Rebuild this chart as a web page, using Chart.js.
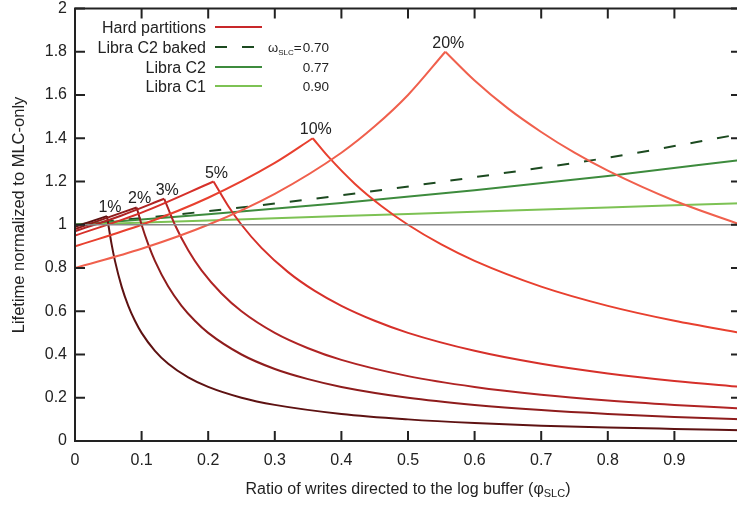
<!DOCTYPE html>
<html><head><meta charset="utf-8">
<script src="https://cdn.jsdelivr.net/npm/chart.js@4/dist/chart.umd.min.js"></script>
<style>
html,body{margin:0;padding:0;background:#fff;overflow:hidden;width:737px;height:506px;}
#wrap{position:absolute;left:0;top:0;width:745px;height:506px;}
</style></head><body>
<div id="wrap"><canvas id="c" width="745" height="506"></canvas></div>
<script>
// ---- tick labels ----
const xTicks = [0, 0.1, 0.2, 0.3, 0.4, 0.5, 0.6, 0.7, 0.8, 0.9, 1];
const xTickLabels = ['0', '0.1', '0.2', '0.3', '0.4', '0.5', '0.6', '0.7', '0.8', '0.9', ''];
const yTicks = [0, 0.2, 0.4, 0.6, 0.8, 1, 1.2, 1.4, 1.6, 1.8, 2];
const yTickLabels = ['0', '0.2', '0.4', '0.6', '0.8', '1', '1.2', '1.4', '1.6', '1.8', '2'];

// ---- hard partitions (SLC share of capacity): rising and falling branches ----
const partitionLabels = ['1%', '2%', '3%', '5%', '10%', '20%'];
const hp1Rise = [[0, 0.99], [0.048, 1.04]];
const hp1Fall = [[0.048, 1.04], [0.055, 0.909], [0.06, 0.833], [0.07, 0.714], [0.08, 0.625], [0.09, 0.556], [0.1, 0.5], [0.12, 0.417], [0.14, 0.357], [0.17, 0.294], [0.2, 0.25], [0.25, 0.2], [0.3, 0.167], [0.4, 0.125], [0.5, 0.1], [0.6, 0.083], [0.7, 0.071], [0.8, 0.0625], [0.9, 0.056], [1.0, 0.05]];
const hp2Rise = [[0, 0.98], [0.0926, 1.08]];
const hp2Fall = [[0.0926, 1.08], [0.1, 1.0], [0.11, 0.909], [0.12, 0.833], [0.14, 0.714], [0.16, 0.625], [0.18, 0.556], [0.2, 0.5], [0.25, 0.4], [0.3, 0.333], [0.35, 0.286], [0.4, 0.25], [0.5, 0.2], [0.6, 0.167], [0.7, 0.143], [0.8, 0.125], [0.9, 0.111], [1.0, 0.1]];
const hp3Rise = [[0, 0.97], [0.07, 1.043], [0.134, 1.12]];
const hp3Fall = [[0.134, 1.12], [0.15, 1.0], [0.17, 0.882], [0.19, 0.789], [0.22, 0.682], [0.25, 0.6], [0.3, 0.5], [0.35, 0.429], [0.4, 0.375], [0.5, 0.3], [0.6, 0.25], [0.7, 0.214], [0.8, 0.1875], [0.9, 0.167], [1.0, 0.15]];
const hp5Rise = [[0, 0.95], [0.1, 1.056], [0.208, 1.2]];
const hp5Fall = [[0.208, 1.2], [0.23, 1.087], [0.25, 1.0], [0.28, 0.893], [0.32, 0.781], [0.36, 0.694], [0.4, 0.625], [0.45, 0.556], [0.5, 0.5], [0.6, 0.417], [0.7, 0.357], [0.8, 0.3125], [0.9, 0.278], [1.0, 0.25]];
const hp10Rise = [[0, 0.9], [0.1, 1.0], [0.2, 1.125], [0.3, 1.286], [0.357, 1.4]];
const hp10Fall = [[0.357, 1.4], [0.38, 1.316], [0.42, 1.19], [0.46, 1.087], [0.5, 1.0], [0.55, 0.909], [0.6, 0.833], [0.7, 0.714], [0.8, 0.625], [0.9, 0.556], [1.0, 0.5]];
const hp20Rise = [[0, 0.8], [0.1, 0.889], [0.2, 1.0], [0.3, 1.143], [0.4, 1.333], [0.45, 1.455], [0.5, 1.6], [0.556, 1.8]];
const hp20Fall = [[0.556, 1.8], [0.6, 1.667], [0.65, 1.538], [0.7, 1.429], [0.75, 1.333], [0.8, 1.25], [0.9, 1.111], [1.0, 1.0]];

// ---- Libra ----
const libraC2Baked = [[0, 1.0], [0.2, 1.063], [0.4, 1.136], [0.6, 1.22], [0.8, 1.31], [1.0, 1.42]];
const libraC2 = [[0, 1.0], [0.2, 1.048], [0.4, 1.101], [0.6, 1.16], [0.8, 1.225], [1.0, 1.30]];
const libraC1 = [[0, 1.0], [0.2, 1.02], [0.4, 1.04], [0.6, 1.06], [0.8, 1.08], [1.0, 1.10]];
const baseline = [[0, 1], [1, 1]];

const legendNames = ['Hard partitions', 'Libra C2 baked', 'Libra C2', 'Libra C1'];
const omegaValues = ['0.70', '0.77', '0.90'];

// ---- styles ----
const hpColors = ['#5e1212', '#8e1c1c', '#b02424', '#d6302a', '#e8402f', '#f0604d'];
const hpLegendColor = '#c8282a';
const bakedColor = '#1c4a20', c2Color = '#3d8b3d', c1Color = '#7dc254';
const FONT = '"Liberation Sans", Arial, sans-serif';
const TXT = '#222';

const toPts = a => a.map(([x, y]) => ({x, y}));
const hpRise = [hp1Rise, hp2Rise, hp3Rise, hp5Rise, hp10Rise, hp20Rise];
const hpFall = [hp1Fall, hp2Fall, hp3Fall, hp5Fall, hp10Fall, hp20Fall];

const datasets = [];
datasets.push({data: toPts(baseline), borderColor: '#888', borderWidth: 1.5, pointRadius: 0});
for (let i = 5; i >= 0; i--) {
  datasets.push({data: toPts(hpRise[i]), borderColor: hpColors[i], borderWidth: 2, pointRadius: 0, cubicInterpolationMode: 'monotone'});
  datasets.push({data: toPts(hpFall[i]), borderColor: hpColors[i], borderWidth: 2, pointRadius: 0, cubicInterpolationMode: 'monotone'});
}
datasets.push({data: toPts(libraC1), borderColor: c1Color, borderWidth: 2, pointRadius: 0, cubicInterpolationMode: 'monotone'});
datasets.push({data: toPts(libraC2), borderColor: c2Color, borderWidth: 2, pointRadius: 0, cubicInterpolationMode: 'monotone'});
datasets.push({data: toPts(libraC2Baked), borderColor: bakedColor, borderWidth: 2, borderDash: [12, 15], pointRadius: 0, cubicInterpolationMode: 'monotone'});

const overlay = {
  id: 'overlay',
  afterDatasetsDraw(chart) {
    const ctx = chart.ctx, a = chart.chartArea, xs = chart.scales.x, ys = chart.scales.y;
    ctx.save();
    // frame
    ctx.strokeStyle = TXT; ctx.lineWidth = 2;
    ctx.strokeRect(a.left, a.top, a.right - a.left, a.bottom - a.top);
    ctx.beginPath();
    xTicks.forEach(v => {
      const px = xs.getPixelForValue(v);
      ctx.moveTo(px, a.bottom); ctx.lineTo(px, a.bottom - 10);
      ctx.moveTo(px, a.top); ctx.lineTo(px, a.top + 10);
    });
    yTicks.forEach(v => {
      const py = ys.getPixelForValue(v);
      ctx.moveTo(a.left, py); ctx.lineTo(a.left + 10, py);
      ctx.moveTo(a.right, py); ctx.lineTo(a.right - 10, py);
    });
    ctx.stroke();

    ctx.fillStyle = TXT;
    // percent labels
    ctx.font = '16px ' + FONT; ctx.textAlign = 'center'; ctx.textBaseline = 'alphabetic';
    hpRise.forEach((r, i) => {
      const p = r[r.length - 1];
      ctx.fillText(partitionLabels[i], xs.getPixelForValue(p[0]) + 3, ys.getPixelForValue(p[1]) - 4);
    });

    // legend
    const rows = [27, 47, 67, 86];
    const sampleColors = [hpLegendColor, bakedColor, c2Color, c1Color];
    ctx.font = '16px ' + FONT; ctx.textAlign = 'right';
    rows.forEach((y, i) => {
      ctx.fillStyle = TXT;
      ctx.fillText(legendNames[i], 206, y + 6);
      ctx.beginPath();
      ctx.strokeStyle = sampleColors[i]; ctx.lineWidth = 2;
      ctx.setLineDash(i === 1 ? [12, 15] : []);
      ctx.moveTo(215, y); ctx.lineTo(262, y); ctx.stroke();
    });
    ctx.setLineDash([]);
    // omega annotation
    ctx.fillStyle = TXT; ctx.textAlign = 'left';
    let x = 268;
    ctx.font = '13px ' + FONT; ctx.fillText('ω', x, 52); x += ctx.measureText('ω').width;
    ctx.font = '8px ' + FONT; ctx.fillText('SLC', x, 55); x += ctx.measureText('SLC').width;
    ctx.font = '13.5px ' + FONT; ctx.fillText('=', x, 52);
    ctx.textAlign = 'right';
    ctx.fillText(omegaValues[0], 329, 52);
    ctx.fillText(omegaValues[1], 329, 72);
    ctx.fillText(omegaValues[2], 329, 91);

    // x axis title with subscript
    const main = 'Ratio of writes directed to the log buffer (φ', sub = 'SLC', close = ')';
    ctx.textAlign = 'left';
    ctx.font = '16px ' + FONT; const w1 = ctx.measureText(main).width, w3 = ctx.measureText(close).width;
    ctx.font = '11px ' + FONT; const w2 = ctx.measureText(sub).width;
    let sx = 408 - (w1 + w2 + w3) / 2;
    ctx.font = '16px ' + FONT; ctx.fillText(main, sx, 494); sx += w1;
    ctx.font = '11px ' + FONT; ctx.fillText(sub, sx, 497); sx += w2;
    ctx.font = '16px ' + FONT; ctx.fillText(close, sx, 494);

    // y axis title
    ctx.save();
    ctx.translate(19, 215); ctx.rotate(-Math.PI / 2);
    ctx.textAlign = 'center'; ctx.textBaseline = 'middle';
    ctx.font = '16.5px ' + FONT;
    ctx.fillText('Lifetime normalized to MLC-only', 0, 0);
    ctx.restore();
    ctx.restore();
  }
};

const noPad = s => { s.paddingTop = 0; s.paddingBottom = 0; s.paddingLeft = 0; s.paddingRight = 0; };

new Chart(document.getElementById('c'), {
  type: 'line',
  data: {datasets},
  options: {
    responsive: false, animation: false, devicePixelRatio: 1,
    layout: {padding: {top: 8.5, right: 4, left: 0, bottom: 0}},
    plugins: {legend: {display: false}, tooltip: {enabled: false}},
    scales: {
      x: {
        type: 'linear', min: 0, max: 1,
        grid: {display: false, drawTicks: false}, border: {display: false},
        afterBuildTicks: s => { s.ticks = xTicks.map(v => ({value: v})); },
        afterFit: s => { s.height = 65; noPad(s); },
        ticks: {autoSkip: false, maxRotation: 0, padding: 10, color: TXT, font: {family: FONT, size: 16},
          callback: (v, i) => xTickLabels[i]}
      },
      y: {
        type: 'linear', min: 0, max: 2,
        grid: {display: false, drawTicks: false}, border: {display: false},
        afterBuildTicks: s => { s.ticks = yTicks.map(v => ({value: v})); },
        afterFit: s => { s.width = 75; noPad(s); },
        ticks: {autoSkip: false, padding: 8, color: TXT, font: {family: FONT, size: 16},
          callback: (v, i) => yTickLabels[i]}
      }
    }
  },
  plugins: [overlay]
});
</script>
</body></html>
